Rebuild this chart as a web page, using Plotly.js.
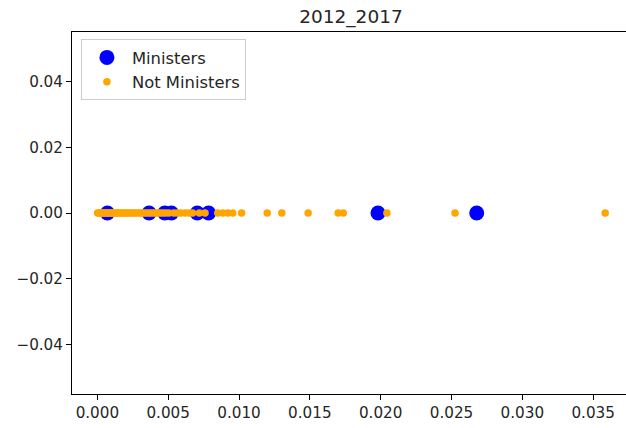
<!DOCTYPE html>
<html>
<head>
<meta charset="utf-8">
<script src="https://cdn.plot.ly/plotly-3.0.1.min.js"></script>
<style>
html, body { margin: 0; padding: 0; overflow: hidden; background: #fff; }
#chart { width: 640px; height: 428px; }
</style>
</head>
<body>
<div id="chart"></div>
<script>
// Data
var titleText = "2012_2017";
var ministersX = [0.00071, 0.00365, 0.00476, 0.00523, 0.00705, 0.00785, 0.01981, 0.02678];
var ministersY = [0, 0, 0, 0, 0, 0, 0, 0];
var notMinistersX = [
  0.00002, 0.00010, 0.00018, 0.00025, 0.00033, 0.00041, 0.00050, 0.00058, 0.00066, 0.00075,
  0.00083, 0.00092, 0.00101, 0.00110, 0.00121, 0.00130, 0.00142, 0.00153, 0.00165, 0.00178,
  0.00190, 0.00203, 0.00217, 0.00231, 0.00246, 0.00260, 0.00275, 0.00291, 0.00307, 0.00322,
  0.00338, 0.00355, 0.00372, 0.00390, 0.00408, 0.00425, 0.00443, 0.00462, 0.00482, 0.00505,
  0.00540, 0.00565, 0.00590, 0.00620, 0.00646, 0.00672, 0.00720, 0.00760, 0.00850, 0.00886,
  0.00921, 0.00956, 0.01018, 0.01199, 0.01302, 0.01488, 0.01700, 0.01736, 0.02044, 0.02525,
  0.03585
];
var notMinistersY = [
  0, 0, 0, 0, 0, 0, 0, 0, 0, 0,
  0, 0, 0, 0, 0, 0, 0, 0, 0, 0,
  0, 0, 0, 0, 0, 0, 0, 0, 0, 0,
  0, 0, 0, 0, 0, 0, 0, 0, 0, 0,
  0, 0, 0, 0, 0, 0, 0, 0, 0, 0,
  0, 0, 0, 0, 0, 0, 0, 0, 0, 0,
  0
];
var seriesNames = ["Ministers", "Not Ministers"];
var xTickVals = [0, 0.005, 0.01, 0.015, 0.02, 0.025, 0.03, 0.035];
var yTickVals = [-0.04, -0.02, 0, 0.02, 0.04];

var font = "DejaVu Sans, Liberation Sans, sans-serif";

var traces = [
  {
    type: "scatter", mode: "markers", name: seriesNames[0],
    x: ministersX, y: ministersY,
    marker: { color: "#0000ff", size: 15, line: { width: 0 } }
  },
  {
    type: "scatter", mode: "markers", name: seriesNames[1],
    x: notMinistersX, y: notMinistersY,
    marker: { color: "#ffa500", size: 7.5, line: { width: 0 } }
  }
];

var axisCommon = {
  showgrid: false, zeroline: false,
  showline: true, mirror: true, linecolor: "#000", linewidth: 1,
  ticks: "outside", ticklen: 5, tickwidth: 1, tickcolor: "#000",
  tickfont: { family: font, size: 15.2, color: "#262626" }
};

var layout = {
  width: 640, height: 428,
  margin: { l: 72, r: 10, t: 32, b: 34, pad: 0 },
  paper_bgcolor: "#fff", plot_bgcolor: "#fff",
  showlegend: true,
  title: {
    text: titleText,
    font: { family: font, size: 18.5, color: "#262626" },
    x: 0.5, xref: "paper", xanchor: "center",
    y: 1 - 17 / 428, yref: "container", yanchor: "middle"
  },
  xaxis: Object.assign({}, axisCommon, {
    range: [-0.00179, 0.0376],
    tickvals: xTickVals, tickformat: ".3f"
  }),
  yaxis: Object.assign({}, axisCommon, {
    range: [-0.055, 0.055],
    tickvals: yTickVals, tickformat: ".2f"
  }),
  legend: {
    x: 0.016, y: 0.98, xanchor: "left", yanchor: "top",
    bgcolor: "rgba(255,255,255,0.8)", bordercolor: "#cccccc", borderwidth: 1,
    font: { family: font, size: 16.4, color: "#262626" },
    itemsizing: "trace", itemwidth: 40
  }
};

Plotly.newPlot("chart", traces, layout, { displayModeBar: false, staticPlot: true });
</script>
</body>
</html>
